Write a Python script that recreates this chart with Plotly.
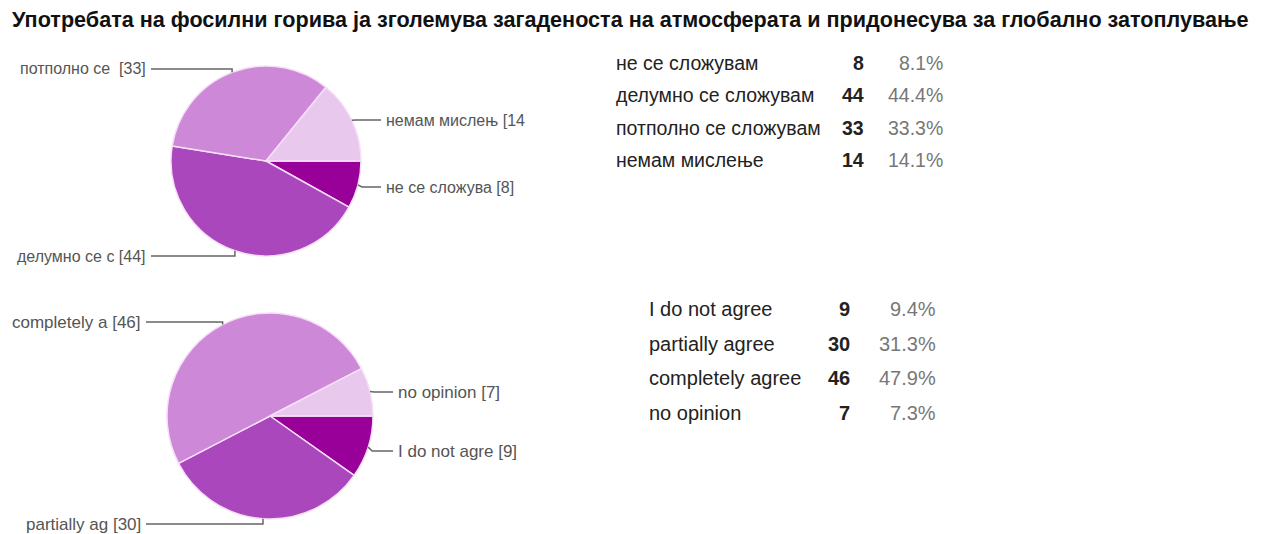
import math
import plotly.graph_objects as go

W, H = 1261, 534

title = ("Употребата на фосилни горива ја зголемува загаденоста "
         "на атмосферата и придонесува за глобално затоплување")

# Macedonian survey answers
mk_labels = ["не се сложувам", "делумно се сложувам", "потполно се сложувам", "немам мислење"]
mk_short = ["не се сложува", "делумно се с", "потполно се ", "немам мислењ"]
mk_counts = [8, 44, 33, 14]
mk_pct = [8.1, 44.4, 33.3, 14.1]

# English survey answers
en_labels = ["I do not agree", "partially agree", "completely agree", "no opinion"]
en_short = ["I do not agre", "partially ag", "completely a", "no opinion"]
en_counts = [9, 30, 46, 7]
en_pct = [9.4, 31.3, 47.9, 7.3]

colors = ["#990099", "#AB47BC", "#CD88D8", "#E9C8EE"]

FONT = "Liberation Sans, Arial, sans-serif"


def px(x):
    return x / W


def py(y):
    return 1 - y / H


fig = go.Figure()
shapes = []
annotations = []

# pie geometry and label placement: (center x, center y, radius,
# label side per slice, label y per slice, left label right edge, right label left edge,
# labels clipped at the chart edge)
pies = [
    dict(short=mk_short, counts=mk_counts, cx=266, cy=161, r=95,
         side=["R", "L", "L", "R"], ly=[187, 256, 69, 120],
         lx_left=148, lx_right=384, clipped=[False, False, False, True], size=16),
    dict(short=en_short, counts=en_counts, cx=270, cy=416, r=103,
         side=["R", "L", "L", "R"], ly=[451, 524, 322, 392],
         lx_left=143, lx_right=396, clipped=[False, False, False, False], size=17),
]

for p in pies:
    cx, cy, r = p["cx"], p["cy"], p["r"]
    fig.add_trace(go.Pie(
        labels=p["short"], values=p["counts"], sort=False,
        direction="clockwise", rotation=90,
        marker=dict(colors=colors, line=dict(color="#F7E0F7", width=1.5)),
        textinfo="none", hoverinfo="label+value+percent", showlegend=False,
        domain=dict(x=[px(cx - r), px(cx + r)], y=[py(cy + r), py(cy - r)]),
    ))
    total = sum(p["counts"])
    start = 0.0
    for i, c in enumerate(p["counts"]):
        span = 360.0 * c / total
        mid = math.radians(start + span / 2)
        start += span
        ex = cx + r * math.cos(mid)
        ey = cy + r * math.sin(mid)
        ly = p["ly"][i]
        text = f"{p['short'][i]} [{c}]"
        if p["clipped"][i]:
            text = text[:-1]
        font = dict(family=FONT, size=p["size"], color="#555555")
        if p["side"][i] == "L":
            endx = p["lx_left"] + 3
            path = f"M {px(ex)},{py(ey)} L {px(ex)},{py(ly)} L {px(endx)},{py(ly)}"
            annotations.append(dict(x=px(p["lx_left"]), y=py(ly), xref="paper", yref="paper",
                                    text=text, showarrow=False, xanchor="right",
                                    yanchor="middle", font=font))
        else:
            endx = p["lx_right"] - 3
            path = f"M {px(ex)},{py(ey)} L {px(ex + 4)},{py(ly)} L {px(endx)},{py(ly)}"
            annotations.append(dict(x=px(p["lx_right"]), y=py(ly), xref="paper", yref="paper",
                                    text=text, showarrow=False, xanchor="left",
                                    yanchor="middle", font=font))
        shapes.append(dict(type="path", path=path, xref="paper", yref="paper",
                           line=dict(color="#666666", width=1.5)))

# summary tables next to the pies
tables = [
    dict(labels=mk_labels, counts=mk_counts, pct=mk_pct, x0=614, xc=866, xp=945,
         y0=63, dy=32.3, size=19.5),
    dict(labels=en_labels, counts=en_counts, pct=en_pct, x0=647, xc=852, xp=938,
         y0=309, dy=34.7, size=20),
]
for t in tables:
    for i, (lab, c, pc) in enumerate(zip(t["labels"], t["counts"], t["pct"])):
        y = t["y0"] + i * t["dy"]
        annotations.append(dict(x=px(t["x0"]), y=py(y), xref="paper", yref="paper",
                                text=lab, showarrow=False, xanchor="left", yanchor="middle",
                                font=dict(family=FONT, size=t["size"], color="#222222")))
        annotations.append(dict(x=px(t["xc"]), y=py(y), xref="paper", yref="paper",
                                text=f"<b>{c}</b>", showarrow=False, xanchor="right",
                                yanchor="middle",
                                font=dict(family=FONT, size=t["size"], color="#222222")))
        annotations.append(dict(x=px(t["xp"]), y=py(y), xref="paper", yref="paper",
                                text=f"{pc:.1f}%", showarrow=False, xanchor="right",
                                yanchor="middle",
                                font=dict(family=FONT, size=t["size"], color="#777777")))

annotations.append(dict(x=px(10), y=py(20), xref="paper", yref="paper",
                        text=f"<b>{title}</b>", showarrow=False, xanchor="left",
                        yanchor="middle",
                        font=dict(family=FONT, size=21.6, color="#111111")))

fig.update_layout(
    width=W, height=H,
    margin=dict(l=0, r=0, t=0, b=0),
    paper_bgcolor="white", plot_bgcolor="white",
    shapes=shapes, annotations=annotations,
)

fig.write_html("out.html")
